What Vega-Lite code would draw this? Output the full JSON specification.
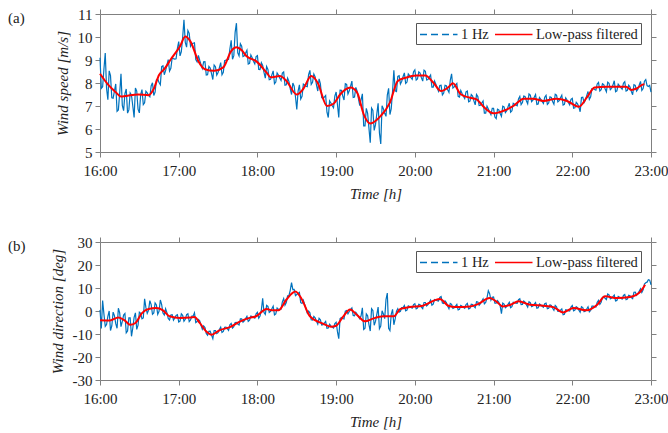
{
"$schema": "https://vega.github.io/schema/vega-lite/v6.json",
"background": "white",
"padding": {"left": 8, "top": 7, "right": 5, "bottom": 5},
"datasets": {
"a_raw": [{"m":0,"v":9.1},{"m":1,"v":7.77},{"m":2,"v":7.84},{"m":3,"v":8.61},{"m":4,"v":9.3},{"m":5,"v":7.76},{"m":6,"v":7.27},{"m":7,"v":8.53},{"m":8,"v":8.32},{"m":9,"v":7.36},{"m":10,"v":7.34},{"m":11,"v":7.65},{"m":12,"v":7.96},{"m":13,"v":6.77},{"m":14,"v":6.83},{"m":15,"v":7.56},{"m":16,"v":8.4},{"m":17,"v":7.03},{"m":18,"v":6.8},{"m":19,"v":7.54},{"m":20,"v":7.74},{"m":21,"v":6.69},{"m":22,"v":6.83},{"m":23,"v":7.57},{"m":24,"v":7.47},{"m":25,"v":7.0},{"m":26,"v":6.5},{"m":27,"v":7.78},{"m":28,"v":7.65},{"m":29,"v":6.86},{"m":30,"v":6.7},{"m":31,"v":7.5},{"m":32,"v":7.71},{"m":33,"v":7.06},{"m":34,"v":7.14},{"m":35,"v":7.64},{"m":36,"v":7.57},{"m":37,"v":7.47},{"m":38,"v":7.4},{"m":39,"v":7.87},{"m":40,"v":8.01},{"m":41,"v":7.46},{"m":42,"v":7.6},{"m":43,"v":8.14},{"m":44,"v":8.18},{"m":45,"v":8.02},{"m":46,"v":7.92},{"m":47,"v":8.71},{"m":48,"v":8.75},{"m":49,"v":8.36},{"m":50,"v":8.54},{"m":51,"v":8.78},{"m":52,"v":9.02},{"m":53,"v":8.52},{"m":54,"v":8.64},{"m":55,"v":9.09},{"m":56,"v":9.06},{"m":57,"v":9.04},{"m":58,"v":9.05},{"m":59,"v":9.51},{"m":60,"v":9.8},{"m":61,"v":9.18},{"m":62,"v":9.36},{"m":63,"v":9.98},{"m":64,"v":10.75},{"m":65,"v":9.76},{"m":66,"v":9.56},{"m":67,"v":10.28},{"m":68,"v":10.16},{"m":69,"v":9.6},{"m":70,"v":9.71},{"m":71,"v":9.73},{"m":72,"v":9.75},{"m":73,"v":9.02},{"m":74,"v":8.92},{"m":75,"v":9.2},{"m":76,"v":8.99},{"m":77,"v":8.8},{"m":78,"v":8.63},{"m":79,"v":8.92},{"m":80,"v":8.93},{"m":81,"v":8.35},{"m":82,"v":8.36},{"m":83,"v":8.72},{"m":84,"v":8.65},{"m":85,"v":8.41},{"m":86,"v":8.15},{"m":87,"v":8.78},{"m":88,"v":8.71},{"m":89,"v":8.34},{"m":90,"v":8.45},{"m":91,"v":8.67},{"m":92,"v":8.89},{"m":93,"v":8.36},{"m":94,"v":8.46},{"m":95,"v":8.97},{"m":96,"v":9.0},{"m":97,"v":9.0},{"m":98,"v":9.03},{"m":99,"v":9.48},{"m":100,"v":9.86},{"m":101,"v":9.03},{"m":102,"v":9.19},{"m":103,"v":10.2},{"m":104,"v":10.6},{"m":105,"v":9.31},{"m":106,"v":9.18},{"m":107,"v":9.71},{"m":108,"v":9.6},{"m":109,"v":9.15},{"m":110,"v":9.18},{"m":111,"v":9.3},{"m":112,"v":9.42},{"m":113,"v":8.82},{"m":114,"v":8.85},{"m":115,"v":9.22},{"m":116,"v":9.1},{"m":117,"v":8.95},{"m":118,"v":8.83},{"m":119,"v":9.15},{"m":120,"v":9.19},{"m":121,"v":8.59},{"m":122,"v":8.58},{"m":123,"v":8.88},{"m":124,"v":8.76},{"m":125,"v":8.46},{"m":126,"v":8.21},{"m":127,"v":8.72},{"m":128,"v":8.59},{"m":129,"v":8.14},{"m":130,"v":8.16},{"m":131,"v":8.35},{"m":132,"v":8.53},{"m":133,"v":7.97},{"m":134,"v":8.04},{"m":135,"v":8.44},{"m":136,"v":8.35},{"m":137,"v":8.22},{"m":138,"v":8.11},{"m":139,"v":8.43},{"m":140,"v":8.48},{"m":141,"v":7.9},{"m":142,"v":7.92},{"m":143,"v":8.21},{"m":144,"v":8.07},{"m":145,"v":7.76},{"m":146,"v":7.5},{"m":147,"v":8.0},{"m":148,"v":7.86},{"m":149,"v":7.4},{"m":150,"v":6.85},{"m":151,"v":7.65},{"m":152,"v":7.92},{"m":153,"v":7.3},{"m":154,"v":7.42},{"m":155,"v":7.95},{"m":156,"v":7.91},{"m":157,"v":7.86},{"m":158,"v":7.84},{"m":159,"v":8.36},{"m":160,"v":8.55},{"m":161,"v":7.94},{"m":162,"v":8.03},{"m":163,"v":8.39},{"m":164,"v":8.26},{"m":165,"v":7.92},{"m":166,"v":7.65},{"m":167,"v":8.18},{"m":168,"v":7.96},{"m":169,"v":7.36},{"m":170,"v":7.33},{"m":171,"v":7.39},{"m":172,"v":7.46},{"m":173,"v":6.73},{"m":174,"v":6.5},{"m":175,"v":7.22},{"m":176,"v":7.13},{"m":177,"v":7.01},{"m":178,"v":6.92},{"m":179,"v":7.43},{"m":180,"v":7.61},{"m":181,"v":7.06},{"m":182,"v":6.5},{"m":183,"v":7.69},{"m":184,"v":7.68},{"m":185,"v":7.44},{"m":186,"v":7.26},{"m":187,"v":7.97},{"m":188,"v":7.94},{"m":189,"v":7.52},{"m":190,"v":7.66},{"m":191,"v":7.86},{"m":192,"v":8.08},{"m":193,"v":7.37},{"m":194,"v":7.39},{"m":195,"v":7.81},{"m":196,"v":7.65},{"m":197,"v":7.32},{"m":198,"v":7.02},{"m":199,"v":7.27},{"m":200,"v":7.53},{"m":201,"v":6.14},{"m":202,"v":6.14},{"m":203,"v":6.9},{"m":204,"v":6.68},{"m":205,"v":6.04},{"m":206,"v":5.4},{"m":207,"v":6.91},{"m":208,"v":6.81},{"m":209,"v":5.94},{"m":210,"v":6.19},{"m":211,"v":6.66},{"m":212,"v":7.12},{"m":213,"v":5.83},{"m":214,"v":5.35},{"m":215,"v":7.01},{"m":216,"v":6.88},{"m":217,"v":6.68},{"m":218,"v":6.55},{"m":219,"v":7.48},{"m":220,"v":7.77},{"m":221,"v":6.63},{"m":222,"v":6.88},{"m":223,"v":7.64},{"m":224,"v":8.55},{"m":225,"v":7.66},{"m":226,"v":7.63},{"m":227,"v":8.29},{"m":228,"v":8.32},{"m":229,"v":7.96},{"m":230,"v":8.08},{"m":231,"v":8.27},{"m":232,"v":8.44},{"m":233,"v":7.98},{"m":234,"v":8.04},{"m":235,"v":8.39},{"m":236,"v":8.32},{"m":237,"v":8.23},{"m":238,"v":8.16},{"m":239,"v":8.49},{"m":240,"v":8.57},{"m":241,"v":8.13},{"m":242,"v":8.18},{"m":243,"v":8.48},{"m":244,"v":8.43},{"m":245,"v":8.23},{"m":246,"v":8.08},{"m":247,"v":8.56},{"m":248,"v":8.51},{"m":249,"v":8.13},{"m":250,"v":8.15},{"m":251,"v":8.26},{"m":252,"v":8.35},{"m":253,"v":7.82},{"m":254,"v":7.82},{"m":255,"v":8.09},{"m":256,"v":7.95},{"m":257,"v":7.79},{"m":258,"v":7.64},{"m":259,"v":7.89},{"m":260,"v":7.9},{"m":261,"v":7.48},{"m":262,"v":7.56},{"m":263,"v":7.9},{"m":264,"v":7.88},{"m":265,"v":7.71},{"m":266,"v":7.59},{"m":267,"v":8.12},{"m":268,"v":8.4},{"m":269,"v":7.78},{"m":270,"v":7.83},{"m":271,"v":7.91},{"m":272,"v":7.98},{"m":273,"v":7.42},{"m":274,"v":7.39},{"m":275,"v":7.67},{"m":276,"v":7.54},{"m":277,"v":7.42},{"m":278,"v":7.32},{"m":279,"v":7.61},{"m":280,"v":7.65},{"m":281,"v":7.18},{"m":282,"v":7.21},{"m":283,"v":7.5},{"m":284,"v":7.43},{"m":285,"v":7.22},{"m":286,"v":7.05},{"m":287,"v":7.5},{"m":288,"v":7.41},{"m":289,"v":7.02},{"m":290,"v":7.03},{"m":291,"v":7.13},{"m":292,"v":7.22},{"m":293,"v":6.69},{"m":294,"v":6.69},{"m":295,"v":6.99},{"m":296,"v":6.87},{"m":297,"v":6.74},{"m":298,"v":6.62},{"m":299,"v":6.9},{"m":300,"v":6.9},{"m":301,"v":6.52},{"m":302,"v":6.45},{"m":303,"v":6.86},{"m":304,"v":6.83},{"m":305,"v":6.67},{"m":306,"v":6.55},{"m":307,"v":6.99},{"m":308,"v":6.96},{"m":309,"v":6.71},{"m":310,"v":6.79},{"m":311,"v":6.96},{"m":312,"v":7.12},{"m":313,"v":6.73},{"m":314,"v":6.79},{"m":315,"v":7.12},{"m":316,"v":7.08},{"m":317,"v":7.04},{"m":318,"v":7.01},{"m":319,"v":7.31},{"m":320,"v":7.42},{"m":321,"v":7.06},{"m":322,"v":7.15},{"m":323,"v":7.43},{"m":324,"v":7.41},{"m":325,"v":7.23},{"m":326,"v":7.1},{"m":327,"v":7.52},{"m":328,"v":7.47},{"m":329,"v":7.19},{"m":330,"v":7.25},{"m":331,"v":7.38},{"m":332,"v":7.5},{"m":333,"v":7.07},{"m":334,"v":7.09},{"m":335,"v":7.37},{"m":336,"v":7.29},{"m":337,"v":7.2},{"m":338,"v":7.11},{"m":339,"v":7.38},{"m":340,"v":7.46},{"m":341,"v":7.07},{"m":342,"v":7.13},{"m":343,"v":7.4},{"m":344,"v":7.37},{"m":345,"v":7.2},{"m":346,"v":7.08},{"m":347,"v":7.51},{"m":348,"v":7.47},{"m":349,"v":7.18},{"m":350,"v":7.23},{"m":351,"v":7.36},{"m":352,"v":7.47},{"m":353,"v":7.04},{"m":354,"v":7.07},{"m":355,"v":7.35},{"m":356,"v":7.26},{"m":357,"v":7.15},{"m":358,"v":7.05},{"m":359,"v":7.29},{"m":360,"v":7.33},{"m":361,"v":6.9},{"m":362,"v":6.92},{"m":363,"v":7.16},{"m":364,"v":7.09},{"m":365,"v":6.96},{"m":366,"v":6.75},{"m":367,"v":7.37},{"m":368,"v":7.38},{"m":369,"v":7.15},{"m":370,"v":7.26},{"m":371,"v":7.45},{"m":372,"v":7.63},{"m":373,"v":7.29},{"m":374,"v":7.4},{"m":375,"v":7.76},{"m":376,"v":7.76},{"m":377,"v":7.72},{"m":378,"v":7.69},{"m":379,"v":7.96},{"m":380,"v":8.03},{"m":381,"v":7.65},{"m":382,"v":7.71},{"m":383,"v":7.97},{"m":384,"v":7.93},{"m":385,"v":7.75},{"m":386,"v":7.62},{"m":387,"v":8.04},{"m":388,"v":7.99},{"m":389,"v":7.71},{"m":390,"v":7.77},{"m":391,"v":7.91},{"m":392,"v":8.1},{"m":393,"v":7.62},{"m":394,"v":7.66},{"m":395,"v":7.95},{"m":396,"v":7.88},{"m":397,"v":7.8},{"m":398,"v":7.73},{"m":399,"v":7.99},{"m":400,"v":8.06},{"m":401,"v":7.65},{"m":402,"v":7.68},{"m":403,"v":7.91},{"m":404,"v":7.83},{"m":405,"v":7.64},{"m":406,"v":7.49},{"m":407,"v":7.93},{"m":408,"v":7.9},{"m":409,"v":7.65},{"m":410,"v":7.73},{"m":411,"v":7.91},{"m":412,"v":8.07},{"m":413,"v":7.68},{"m":414,"v":7.76},{"m":415,"v":8.08},{"m":416,"v":8.15},{"m":417,"v":7.89},{"m":418,"v":7.85},{"m":419,"v":7.9},{"m":420,"v":7.6}],
"a_lp": [{"m":0,"v":8.4},{"m":6,"v":7.94},{"m":12,"v":7.6},{"m":16,"v":7.41},{"m":21,"v":7.45},{"m":29,"v":7.5},{"m":37,"v":7.47},{"m":41,"v":7.75},{"m":45,"v":8.35},{"m":49,"v":8.6},{"m":54,"v":9.03},{"m":61,"v":9.6},{"m":65,"v":10.02},{"m":69,"v":9.8},{"m":75,"v":8.95},{"m":80,"v":8.6},{"m":87,"v":8.53},{"m":94,"v":8.68},{"m":100,"v":9.39},{"m":104,"v":9.55},{"m":108,"v":9.42},{"m":112,"v":9.15},{"m":119,"v":8.95},{"m":127,"v":8.45},{"m":130,"v":8.25},{"m":137,"v":8.3},{"m":142,"v":8.1},{"m":150,"v":7.5},{"m":155,"v":7.75},{"m":161,"v":8.3},{"m":166,"v":8.0},{"m":173,"v":7.0},{"m":178,"v":7.1},{"m":183,"v":7.5},{"m":191,"v":7.8},{"m":196,"v":7.58},{"m":201,"v":6.64},{"m":206,"v":6.24},{"m":214,"v":6.57},{"m":221,"v":7.15},{"m":227,"v":8.09},{"m":233,"v":8.23},{"m":241,"v":8.33},{"m":248,"v":8.33},{"m":254,"v":8.02},{"m":260,"v":7.65},{"m":266,"v":7.84},{"m":269,"v":7.99},{"m":275,"v":7.51},{"m":282,"v":7.36},{"m":287,"v":7.29},{"m":293,"v":6.93},{"m":300,"v":6.68},{"m":307,"v":6.78},{"m":315,"v":7.0},{"m":323,"v":7.32},{"m":330,"v":7.32},{"m":338,"v":7.22},{"m":348,"v":7.32},{"m":356,"v":7.22},{"m":365,"v":6.97},{"m":371,"v":7.36},{"m":377,"v":7.8},{"m":386,"v":7.84},{"m":394,"v":7.84},{"m":401,"v":7.84},{"m":405,"v":7.7},{"m":409,"v":7.76},{"m":414,"v":7.94},{"m":415,"v":7.95}],
"b_raw": [{"m":0,"v":0.5},{"m":1,"v":-7.62},{"m":2,"v":4.5},{"m":3,"v":-1.34},{"m":4,"v":-6.7},{"m":5,"v":-5.87},{"m":6,"v":-2.3},{"m":7,"v":0.0},{"m":8,"v":-8.5},{"m":9,"v":-6.52},{"m":10,"v":-0.5},{"m":11,"v":-2.05},{"m":12,"v":-5.5},{"m":13,"v":-7.5},{"m":14,"v":1.2},{"m":15,"v":-0.83},{"m":16,"v":-6.8},{"m":17,"v":-4.54},{"m":18,"v":-1.8},{"m":19,"v":-1.13},{"m":20,"v":-9.5},{"m":21,"v":-8.7},{"m":22,"v":-3.0},{"m":23,"v":-2.98},{"m":24,"v":-11.0},{"m":25,"v":-7.4},{"m":26,"v":-2.8},{"m":27,"v":-0.82},{"m":28,"v":-8.0},{"m":29,"v":-6.18},{"m":30,"v":-0.5},{"m":31,"v":-1.01},{"m":32,"v":-3.4},{"m":33,"v":-3.04},{"m":34,"v":5.3},{"m":35,"v":1.43},{"m":36,"v":-1.0},{"m":37,"v":0.26},{"m":38,"v":4.5},{"m":39,"v":2.79},{"m":40,"v":-1.4},{"m":41,"v":-0.83},{"m":42,"v":3.5},{"m":43,"v":2.67},{"m":44,"v":-1.4},{"m":45,"v":-0.1},{"m":46,"v":4.8},{"m":47,"v":2.75},{"m":48,"v":-0.9},{"m":49,"v":-1.72},{"m":50,"v":1.0},{"m":51,"v":-0.72},{"m":52,"v":-3.2},{"m":53,"v":-3.89},{"m":54,"v":-1.7},{"m":55,"v":-1.58},{"m":56,"v":-4.0},{"m":57,"v":-3.01},{"m":58,"v":-1.9},{"m":59,"v":-1.57},{"m":60,"v":-4.8},{"m":61,"v":-4.39},{"m":62,"v":-1.2},{"m":63,"v":-1.88},{"m":64,"v":-4.5},{"m":65,"v":-3.63},{"m":66,"v":-1.6},{"m":67,"v":-1.24},{"m":68,"v":-4.6},{"m":69,"v":-3.86},{"m":70,"v":-2.2},{"m":71,"v":-2.13},{"m":72,"v":-0.8},{"m":73,"v":-5.05},{"m":74,"v":-4.6},{"m":75,"v":-3.65},{"m":76,"v":-4.3},{"m":77,"v":-6.2},{"m":78,"v":-7.9},{"m":79,"v":-6.51},{"m":80,"v":-7.2},{"m":81,"v":-9.75},{"m":82,"v":-10.5},{"m":83,"v":-8.82},{"m":84,"v":-8.8},{"m":85,"v":-10.5},{"m":86,"v":-12.0},{"m":87,"v":-8.51},{"m":88,"v":-8.5},{"m":89,"v":-9.82},{"m":90,"v":-9.4},{"m":91,"v":-8.08},{"m":92,"v":-7.0},{"m":93,"v":-9.35},{"m":94,"v":-8.9},{"m":95,"v":-7.06},{"m":96,"v":-7.0},{"m":97,"v":-7.62},{"m":98,"v":-8.4},{"m":99,"v":-6.03},{"m":100,"v":-5.4},{"m":101,"v":-7.42},{"m":102,"v":-6.8},{"m":103,"v":-4.97},{"m":104,"v":-4.9},{"m":105,"v":-5.65},{"m":106,"v":-6.1},{"m":107,"v":-3.38},{"m":108,"v":-3.4},{"m":109,"v":-4.86},{"m":110,"v":-4.3},{"m":111,"v":-3.26},{"m":112,"v":-2.3},{"m":113,"v":-4.52},{"m":114,"v":-4.0},{"m":115,"v":-2.21},{"m":116,"v":-2.4},{"m":117,"v":-2.84},{"m":118,"v":-3.1},{"m":119,"v":-1.26},{"m":120,"v":-0.6},{"m":121,"v":-3.1},{"m":122,"v":-2.2},{"m":123,"v":0.5},{"m":124,"v":5.5},{"m":125,"v":-0.7},{"m":126,"v":-1.5},{"m":127,"v":2.43},{"m":128,"v":2.0},{"m":129,"v":-0.6},{"m":130,"v":-0.15},{"m":131,"v":0.98},{"m":132,"v":2.1},{"m":133,"v":-1.7},{"m":134,"v":-1.3},{"m":135,"v":1.3},{"m":136,"v":0.7},{"m":137,"v":0.67},{"m":138,"v":0.8},{"m":139,"v":4.0},{"m":140,"v":5.4},{"m":141,"v":2.54},{"m":142,"v":3.7},{"m":143,"v":6.62},{"m":144,"v":6.7},{"m":145,"v":9.0},{"m":146,"v":12.3},{"m":147,"v":9.28},{"m":148,"v":9.4},{"m":149,"v":6.69},{"m":150,"v":7.2},{"m":151,"v":7.66},{"m":152,"v":8.1},{"m":153,"v":3.62},{"m":154,"v":3.3},{"m":155,"v":4.7},{"m":156,"v":2.9},{"m":157,"v":1.0},{"m":158,"v":-0.9},{"m":159,"v":-0.05},{"m":160,"v":-0.8},{"m":161,"v":-3.82},{"m":162,"v":-3.9},{"m":163,"v":-2.36},{"m":164,"v":-3.0},{"m":165,"v":-4.5},{"m":166,"v":-5.7},{"m":167,"v":-3.19},{"m":168,"v":-3.8},{"m":169,"v":-6.08},{"m":170,"v":-5.95},{"m":171,"v":-5.22},{"m":172,"v":-4.5},{"m":173,"v":-7.49},{"m":174,"v":-7.4},{"m":175,"v":-5.73},{"m":176,"v":-6.5},{"m":177,"v":-7.0},{"m":178,"v":-7.4},{"m":179,"v":-5.45},{"m":180,"v":-4.9},{"m":181,"v":-9.0},{"m":182,"v":-12.0},{"m":183,"v":-3.26},{"m":184,"v":-2.8},{"m":185,"v":-3.3},{"m":186,"v":-3.5},{"m":187,"v":-0.09},{"m":188,"v":0.2},{"m":189,"v":-1.21},{"m":190,"v":-0.2},{"m":191,"v":0.58},{"m":192,"v":1.35},{"m":193,"v":-1.93},{"m":194,"v":-2.1},{"m":195,"v":-0.55},{"m":196,"v":-1.4},{"m":197,"v":-2.5},{"m":198,"v":-3.4},{"m":199,"v":-2.07},{"m":200,"v":1.4},{"m":201,"v":-8.04},{"m":202,"v":-7.5},{"m":203,"v":-1.3},{"m":204,"v":-2.1},{"m":205,"v":-5.9},{"m":206,"v":-8.7},{"m":207,"v":1.0},{"m":208,"v":0.2},{"m":209,"v":-6.18},{"m":210,"v":-4.55},{"m":211,"v":-1.43},{"m":212,"v":1.7},{"m":213,"v":-7.68},{"m":214,"v":-6.55},{"m":215,"v":0.07},{"m":216,"v":-1.3},{"m":217,"v":-3.3},{"m":218,"v":5.0},{"m":219,"v":7.8},{"m":220,"v":-7.5},{"m":221,"v":-8.5},{"m":222,"v":-1.5},{"m":223,"v":0.7},{"m":224,"v":-6.0},{"m":225,"v":-3.46},{"m":226,"v":-0.1},{"m":227,"v":0.99},{"m":228,"v":-0.5},{"m":229,"v":-0.14},{"m":230,"v":1.5},{"m":231,"v":1.52},{"m":232,"v":2.4},{"m":233,"v":0.06},{"m":234,"v":0.4},{"m":235,"v":2.24},{"m":236,"v":1.96},{"m":237,"v":1.5},{"m":238,"v":1.2},{"m":239,"v":2.79},{"m":240,"v":3.2},{"m":241,"v":0.96},{"m":242,"v":1.3},{"m":243,"v":2.9},{"m":244,"v":2.7},{"m":245,"v":1.72},{"m":246,"v":1.0},{"m":247,"v":3.7},{"m":248,"v":3.7},{"m":249,"v":2.19},{"m":250,"v":2.8},{"m":251,"v":3.81},{"m":252,"v":4.8},{"m":253,"v":2.56},{"m":254,"v":3.0},{"m":255,"v":4.96},{"m":256,"v":4.8},{"m":257,"v":4.5},{"m":258,"v":4.3},{"m":259,"v":5.89},{"m":260,"v":6.3},{"m":261,"v":3.49},{"m":262,"v":3.3},{"m":263,"v":4.42},{"m":264,"v":3.7},{"m":265,"v":2.2},{"m":266,"v":1.0},{"m":267,"v":3.31},{"m":268,"v":2.9},{"m":269,"v":1.14},{"m":270,"v":1.4},{"m":271,"v":2.16},{"m":272,"v":2.9},{"m":273,"v":0.46},{"m":274,"v":0.7},{"m":275,"v":2.46},{"m":276,"v":2.1},{"m":277,"v":1.61},{"m":278,"v":1.2},{"m":279,"v":2.83},{"m":280,"v":3.3},{"m":281,"v":0.94},{"m":282,"v":1.2},{"m":283,"v":2.95},{"m":284,"v":2.8},{"m":285,"v":1.98},{"m":286,"v":1.4},{"m":287,"v":4.01},{"m":288,"v":3.9},{"m":289,"v":2.51},{"m":290,"v":3.2},{"m":291,"v":4.26},{"m":292,"v":5.3},{"m":293,"v":3.15},{"m":294,"v":3.7},{"m":295,"v":5.67},{"m":296,"v":8.8},{"m":297,"v":7.5},{"m":298,"v":4.7},{"m":299,"v":5.95},{"m":300,"v":6.1},{"m":301,"v":3.44},{"m":302,"v":3.4},{"m":303,"v":4.54},{"m":304,"v":3.8},{"m":305,"v":2.36},{"m":306,"v":-1.2},{"m":307,"v":3.45},{"m":308,"v":3.0},{"m":309,"v":1.46},{"m":310,"v":1.96},{"m":311,"v":2.86},{"m":312,"v":3.8},{"m":313,"v":1.47},{"m":314,"v":1.9},{"m":315,"v":3.85},{"m":316,"v":3.7},{"m":317,"v":3.44},{"m":318,"v":3.3},{"m":319,"v":4.9},{"m":320,"v":5.3},{"m":321,"v":2.83},{"m":322,"v":2.9},{"m":323,"v":4.32},{"m":324,"v":3.9},{"m":325,"v":2.68},{"m":326,"v":1.7},{"m":327,"v":4.04},{"m":328,"v":3.6},{"m":329,"v":1.88},{"m":330,"v":2.2},{"m":331,"v":2.97},{"m":332,"v":3.7},{"m":333,"v":1.2},{"m":334,"v":1.4},{"m":335,"v":3.07},{"m":336,"v":2.6},{"m":337,"v":2.08},{"m":338,"v":1.65},{"m":339,"v":3.13},{"m":340,"v":3.4},{"m":341,"v":1.03},{"m":342,"v":1.2},{"m":343,"v":2.69},{"m":344,"v":2.4},{"m":345,"v":1.18},{"m":346,"v":0.3},{"m":347,"v":2.43},{"m":348,"v":1.85},{"m":349,"v":-0.15},{"m":350,"v":-0.1},{"m":351,"v":0.39},{"m":352,"v":0.9},{"m":353,"v":-1.64},{"m":354,"v":-1.4},{"m":355,"v":0.52},{"m":356,"v":0.4},{"m":357,"v":0.09},{"m":358,"v":-0.06},{"m":359,"v":1.74},{"m":360,"v":2.36},{"m":361,"v":0.09},{"m":362,"v":0.4},{"m":363,"v":1.88},{"m":364,"v":1.5},{"m":365,"v":0.38},{"m":366,"v":-0.5},{"m":367,"v":1.87},{"m":368,"v":1.5},{"m":369,"v":-0.28},{"m":370,"v":0.0},{"m":371,"v":0.89},{"m":372,"v":1.8},{"m":373,"v":-0.4},{"m":374,"v":0.2},{"m":375,"v":2.15},{"m":376,"v":2.1},{"m":377,"v":1.84},{"m":378,"v":1.75},{"m":379,"v":3.77},{"m":380,"v":4.6},{"m":381,"v":2.9},{"m":382,"v":3.8},{"m":383,"v":5.95},{"m":384,"v":6.3},{"m":385,"v":5.53},{"m":386,"v":5.0},{"m":387,"v":7.39},{"m":388,"v":7.0},{"m":389,"v":5.27},{"m":390,"v":5.6},{"m":391,"v":6.26},{"m":392,"v":6.95},{"m":393,"v":4.39},{"m":394,"v":4.6},{"m":395,"v":6.3},{"m":396,"v":5.96},{"m":397,"v":5.49},{"m":398,"v":5.15},{"m":399,"v":6.76},{"m":400,"v":7.2},{"m":401,"v":4.91},{"m":402,"v":5.2},{"m":403,"v":6.83},{"m":404,"v":6.6},{"m":405,"v":5.88},{"m":406,"v":5.4},{"m":407,"v":8.17},{"m":408,"v":8.2},{"m":409,"v":6.82},{"m":410,"v":7.5},{"m":411,"v":8.59},{"m":412,"v":9.7},{"m":413,"v":8.05},{"m":414,"v":9.2},{"m":415,"v":11.75},{"m":416,"v":12.3},{"m":417,"v":12.54},{"m":418,"v":13.6},{"m":419,"v":13.41},{"m":420,"v":11.4}],
"b_lp": [{"m":0,"v":-4},{"m":7.6,"v":-4.1},{"m":14,"v":-2.8},{"m":19,"v":-4.2},{"m":23,"v":-6.0},{"m":27,"v":-5.2},{"m":32,"v":-0.9},{"m":37,"v":0.9},{"m":43,"v":1.3},{"m":48,"v":0.3},{"m":53,"v":-2.3},{"m":61,"v":-3.0},{"m":69,"v":-2.8},{"m":72,"v":-2.6},{"m":76,"v":-5.2},{"m":81,"v":-8.9},{"m":85,"v":-10.3},{"m":91,"v":-8.4},{"m":99,"v":-7.0},{"m":107,"v":-4.5},{"m":114,"v":-3.0},{"m":119,"v":-2.3},{"m":127,"v":0.9},{"m":131,"v":0.3},{"m":136,"v":0.3},{"m":142,"v":4.9},{"m":149,"v":8.5},{"m":154,"v":4.9},{"m":160,"v":-2.3},{"m":170,"v":-5.5},{"m":176,"v":-6.8},{"m":180,"v":-6.4},{"m":185.5,"v":-2.3},{"m":190.6,"v":0.6},{"m":195.7,"v":-1.6},{"m":202,"v":-4.5},{"m":208,"v":-3.3},{"m":216,"v":-2.3},{"m":224,"v":-2.3},{"m":229,"v":0.9},{"m":236,"v":1.7},{"m":246,"v":2.3},{"m":259,"v":5.2},{"m":265.5,"v":2.3},{"m":271,"v":1.7},{"m":282,"v":2.0},{"m":288,"v":3.0},{"m":297,"v":5.6},{"m":302,"v":4.2},{"m":307,"v":2.0},{"m":313,"v":2.7},{"m":319,"v":4.2},{"m":328,"v":2.7},{"m":338,"v":2.3},{"m":345.6,"v":1.7},{"m":353,"v":-0.6},{"m":361,"v":1.3},{"m":371,"v":0.3},{"m":379,"v":2.7},{"m":385,"v":6.4},{"m":394,"v":5.6},{"m":404,"v":6.1},{"m":412,"v":8.5},{"m":415.5,"v":11.4}]
},
"config": {
"font": "Liberation Serif",
"view": {"stroke": null},
"axis": {"grid": false, "labelFlush": false, "domainColor": "#808080", "tickColor": "#808080", "tickSize": 5, "labelFont": "Liberation Serif", "labelFontSize": 15, "labelColor": "#222", "titleFont": "Liberation Serif", "titleFontSize": 15, "titleFontWeight": "normal", "titleFontStyle": "italic", "titleColor": "#222"},
"legend": {"orient": "none", "legendX": 316, "legendY": 9, "direction": "horizontal", "title": null, "symbolType": "M-1,0H4", "symbolSize": 225, "symbolStrokeWidth": 1.5, "labelFont": "Liberation Serif", "labelFontSize": 14.5, "labelColor": "#222", "strokeColor": "#555", "fillColor": "white", "padding": 3, "columnPadding": 3, "labelOffset": 25, "labelLimit": 300}
},
"resolve": {"legend": {"color": "independent"}},
"spacing": 34,
"vconcat": [
{
"width": 551, "height": 138,
"title": {"text": "(a)", "anchor": "start", "frame": "group", "dx": -92, "dy": 23, "fontSize": 15, "fontWeight": "normal", "font": "Liberation Serif", "color": "#222"},
"layer": [
{"data": {"name": "a_raw"}, "mark": {"type": "line", "strokeWidth": 1.2},
"encoding": {
"x": {"field": "m", "type": "quantitative", "scale": {"domain": [0, 420], "nice": false}, "axis": {"values": [0,60,120,180,240,300,360,420], "labelExpr": "(16 + datum.value/60) + ':00'", "title": "Time [h]", "labelPadding": 6, "titlePadding": 8}},
"y": {"field": "v", "type": "quantitative", "scale": {"domain": [5, 11], "nice": false, "zero": false}, "axis": {"values": [5,6,7,8,9,10,11], "labelExpr": "'' + datum.value", "title": "Wind speed [m/s]", "labelPadding": 3, "titlePadding": 7}},
"color": {"datum": "1 Hz", "type": "nominal", "scale": {"domain": ["1 Hz", "Low-pass filtered"], "range": ["#0072BD", "#FF0000"]}, "legend": {"encode": {"symbols": {"update": {"strokeDash": {"signal": "datum.value === '1 Hz' ? [7,4] : [1,0]"}}}}}}
}},
{"data": {"name": "a_lp"}, "mark": {"type": "line", "strokeWidth": 2, "interpolate": "monotone"},
"encoding": {
"x": {"field": "m", "type": "quantitative", "axis": {"orient": "top", "values": [0,60,120,180,240,300,360,420], "labels": false, "title": null}},
"y": {"field": "v", "type": "quantitative", "axis": {"orient": "right", "values": [5,6,7,8,9,10,11], "labels": false, "title": null}},
"color": {"datum": "Low-pass filtered", "type": "nominal"}
}}
],
"resolve": {"axis": {"x": "independent", "y": "independent"}}
},
{
"width": 551, "height": 138,
"title": {"text": "(b)", "anchor": "start", "frame": "group", "dx": -92, "dy": 23, "fontSize": 15, "fontWeight": "normal", "font": "Liberation Serif", "color": "#222"},
"layer": [
{"data": {"name": "b_raw"}, "mark": {"type": "line", "strokeWidth": 1.2},
"encoding": {
"x": {"field": "m", "type": "quantitative", "scale": {"domain": [0, 420], "nice": false}, "axis": {"values": [0,60,120,180,240,300,360,420], "labelExpr": "(16 + datum.value/60) + ':00'", "title": "Time [h]", "labelPadding": 6, "titlePadding": 8}},
"y": {"field": "v", "type": "quantitative", "scale": {"domain": [-30, 30], "nice": false, "zero": false}, "axis": {"values": [-30,-20,-10,0,10,20,30], "labelExpr": "'' + datum.value", "title": "Wind direction [deg]", "labelPadding": 3, "titlePadding": 7}},
"color": {"datum": "1 Hz", "type": "nominal", "scale": {"domain": ["1 Hz", "Low-pass filtered"], "range": ["#0072BD", "#FF0000"]}, "legend": {"encode": {"symbols": {"update": {"strokeDash": {"signal": "datum.value === '1 Hz' ? [7,4] : [1,0]"}}}}}}
}},
{"data": {"name": "b_lp"}, "mark": {"type": "line", "strokeWidth": 2, "interpolate": "monotone"},
"encoding": {
"x": {"field": "m", "type": "quantitative", "axis": {"orient": "top", "values": [0,60,120,180,240,300,360,420], "labels": false, "title": null}},
"y": {"field": "v", "type": "quantitative", "axis": {"orient": "right", "values": [-30,-20,-10,0,10,20,30], "labels": false, "title": null}},
"color": {"datum": "Low-pass filtered", "type": "nominal"}
}}
],
"resolve": {"axis": {"x": "independent", "y": "independent"}}
}
]
}
